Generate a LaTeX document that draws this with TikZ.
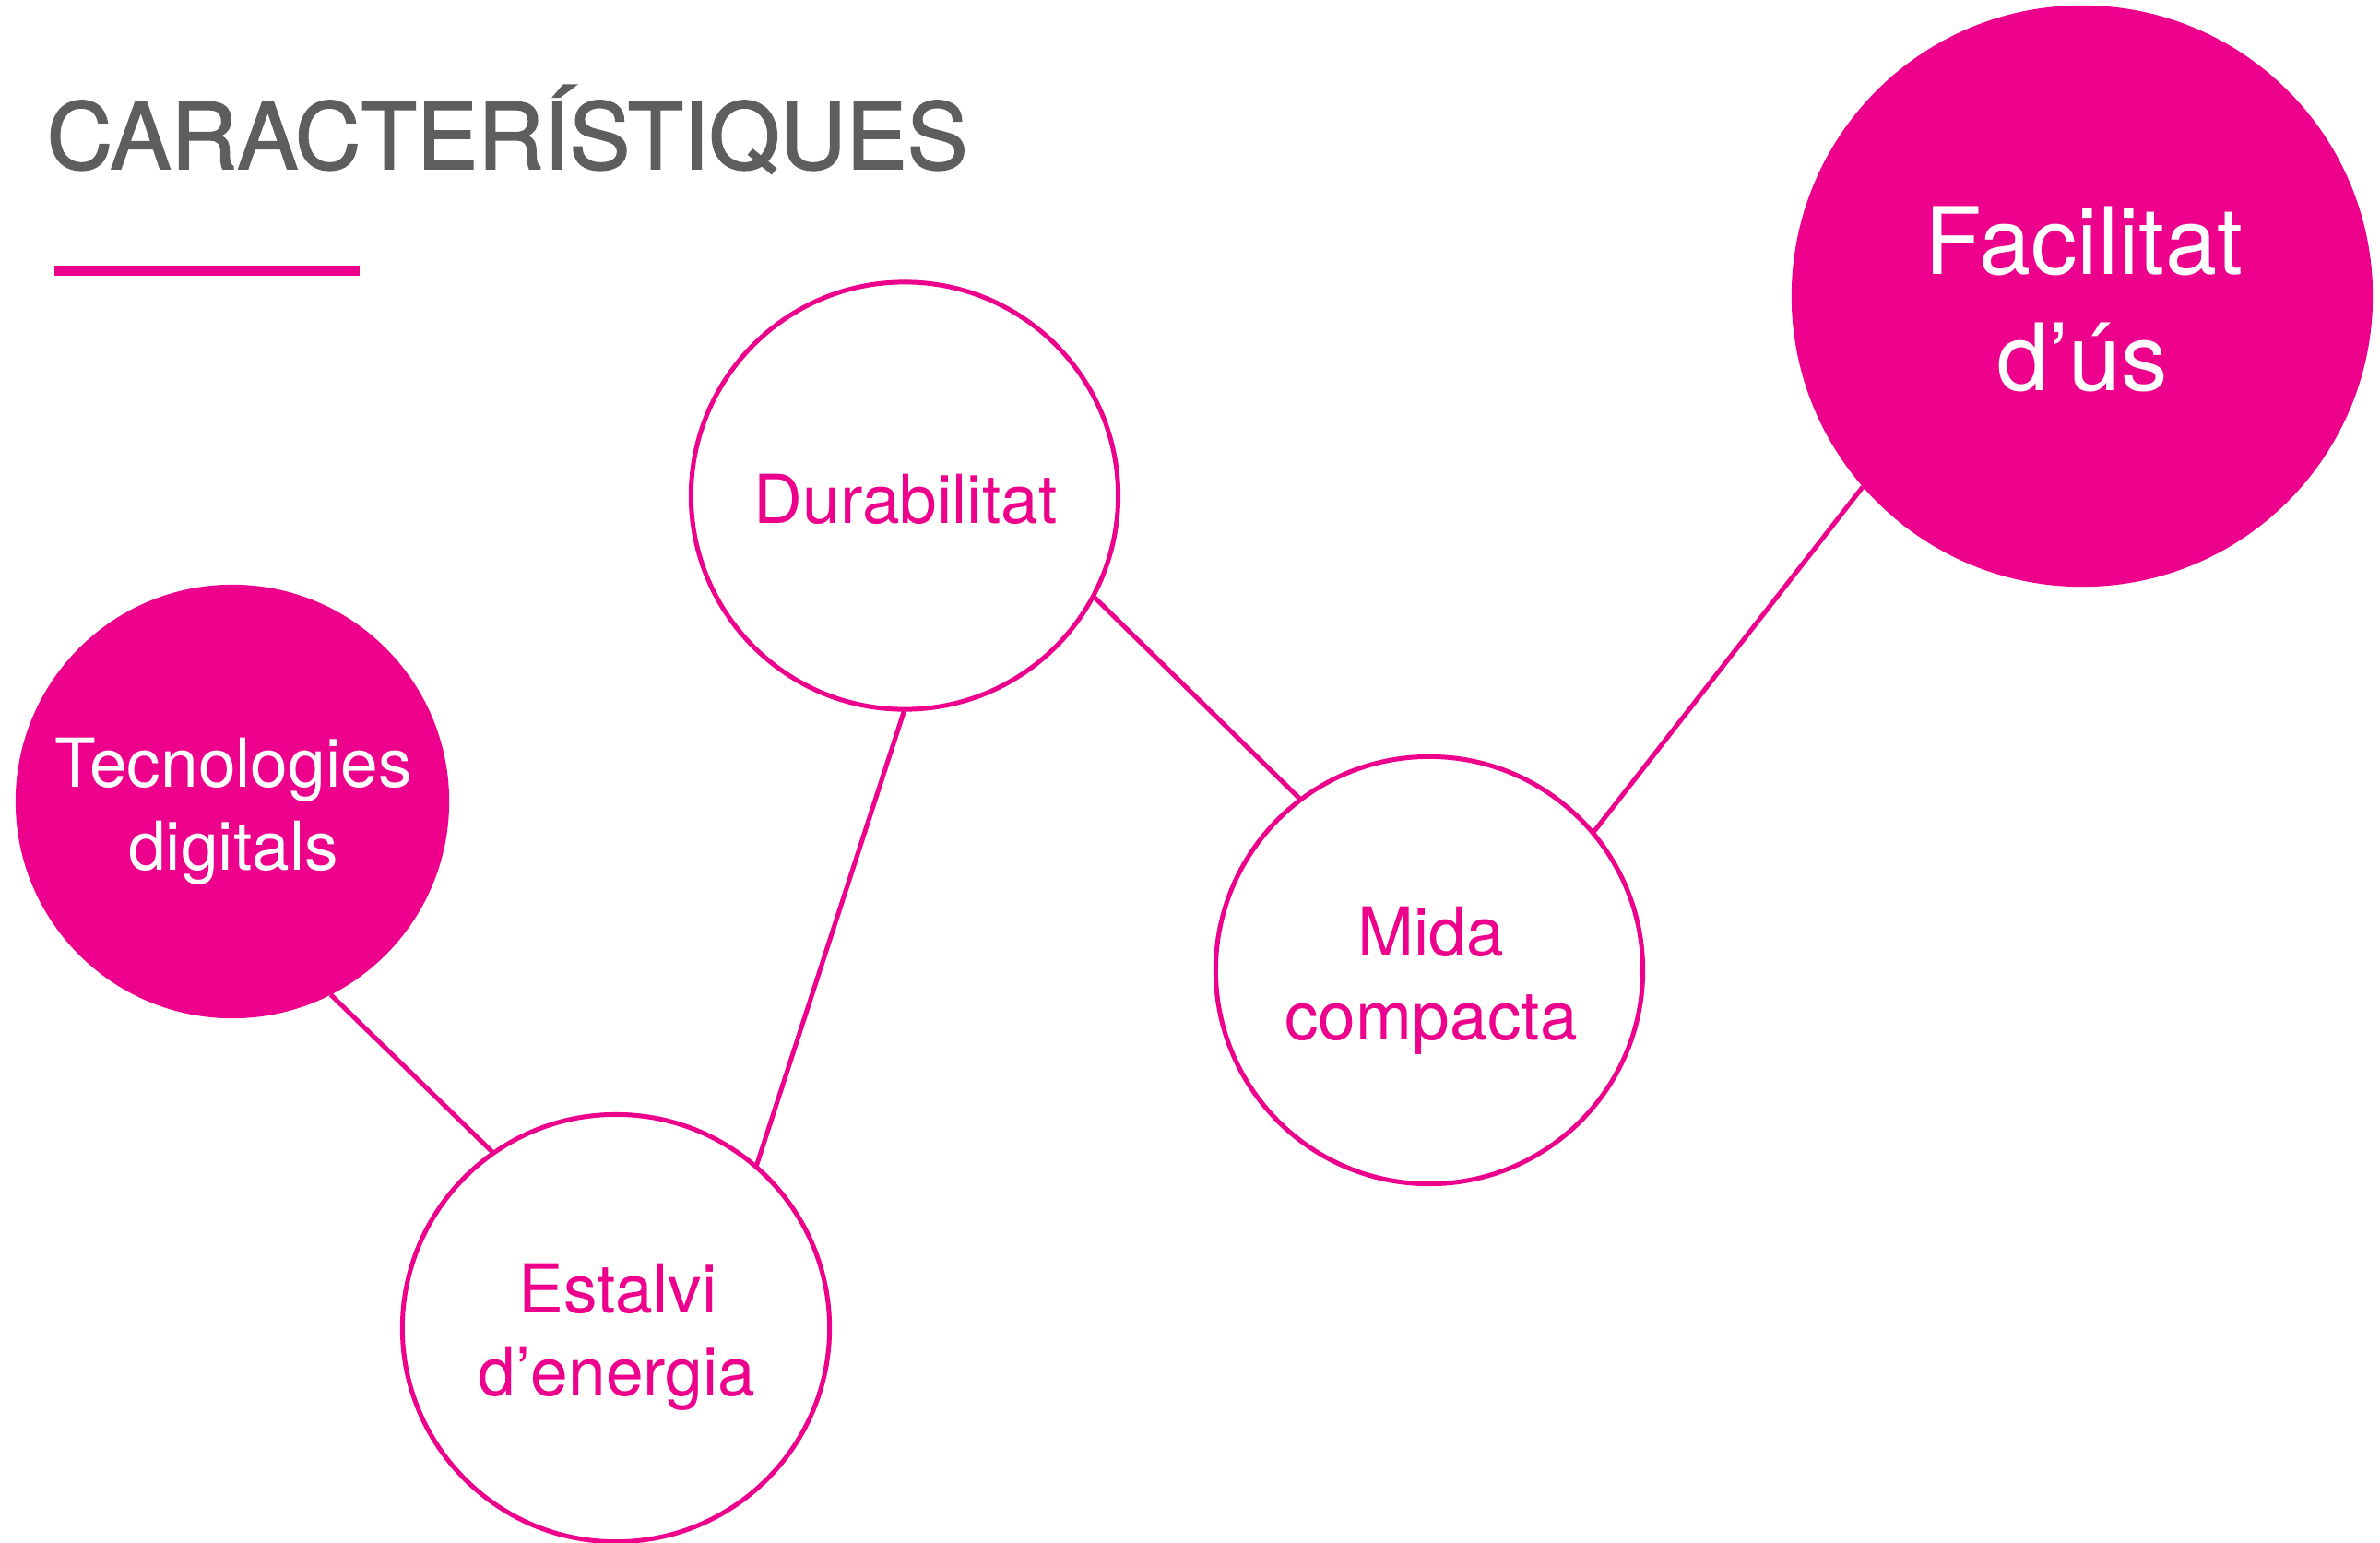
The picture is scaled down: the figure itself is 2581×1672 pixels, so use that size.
\documentclass[tikz,border=0pt]{standalone}
\usepackage{fontspec}
\setmainfont{TeX Gyre Heros}
\newfontfamily\titlefont[FakeBold=1.6]{TeX Gyre Heros}
\definecolor{brandpink}{HTML}{EC008C}
\definecolor{titlegray}{HTML}{5E5E5E}
\begin{document}
\begin{tikzpicture}[x=0.01cm,y=-0.01cm,
  ring/.style={circle,draw=brandpink,line width=1.42pt,fill=white,minimum size=4.63cm,inner sep=0pt,outer sep=0pt},
  disc/.style={circle,fill=brandpink,inner sep=0pt,outer sep=0pt},
  link/.style={draw=brandpink,line width=1.42pt},
  lbl/.style={anchor=base,inner sep=0pt,font=\fontsize{20.8pt}{24pt}\selectfont,text=brandpink},
  wlbl/.style={lbl,text=white},
  biglbl/.style={wlbl,font=\fontsize{28.7pt}{34pt}\selectfont}]
\useasboundingbox (0,0) rectangle (2581,1672);

% title and underline
\node[anchor=base west,inner sep=0pt,text=titlegray,font=\titlefont\fontsize{28.2pt}{34pt}\selectfont] (title) at (50,183) {CARACTERÍSTIQUES};
\coordinate (ulA) at (59,293);
\coordinate (ulB) at (390,293);
\draw[brandpink,line width=3.13pt] (ulA) -- (ulB);

% circles
\node[disc,minimum size=6.30cm] (fac) at (2258,321) {};
\node[ring] (dur) at (981,537.5) {};
\node[disc,minimum size=4.70cm] (tec) at (252,869) {};
\node[ring] (mid) at (1550,1052) {};
\node[ring] (est) at (668,1440) {};

% connectors
\draw[link] (tec.297.6) -- (est.125.6);
\draw[link] (est.49.1) -- (dur.south);
\draw[link] (dur.332) -- (mid.127.5);
\draw[link] (mid.40.5) -- (fac.221.1);

% labels
\node[lbl] (durT) at (982,567) {Durabilitat};
\node[wlbl] (tecA) at (253,853) {Tecnologies};
\node[wlbl] (tecB) at (253,943) {digitals};
\node[lbl] (midA) at (1552,1036) {Mida};
\node[lbl] (midB) at (1552,1127) {compacta};
\node[lbl] (estA) at (670,1423) {Estalvi};
\node[lbl] (estB) at (669,1513) {d’energia};
\node[biglbl] (facA) at (2260,297) {Facilitat};
\node[biglbl] (facB) at (2258,423) {d’ús};
\end{tikzpicture}
\end{document}
